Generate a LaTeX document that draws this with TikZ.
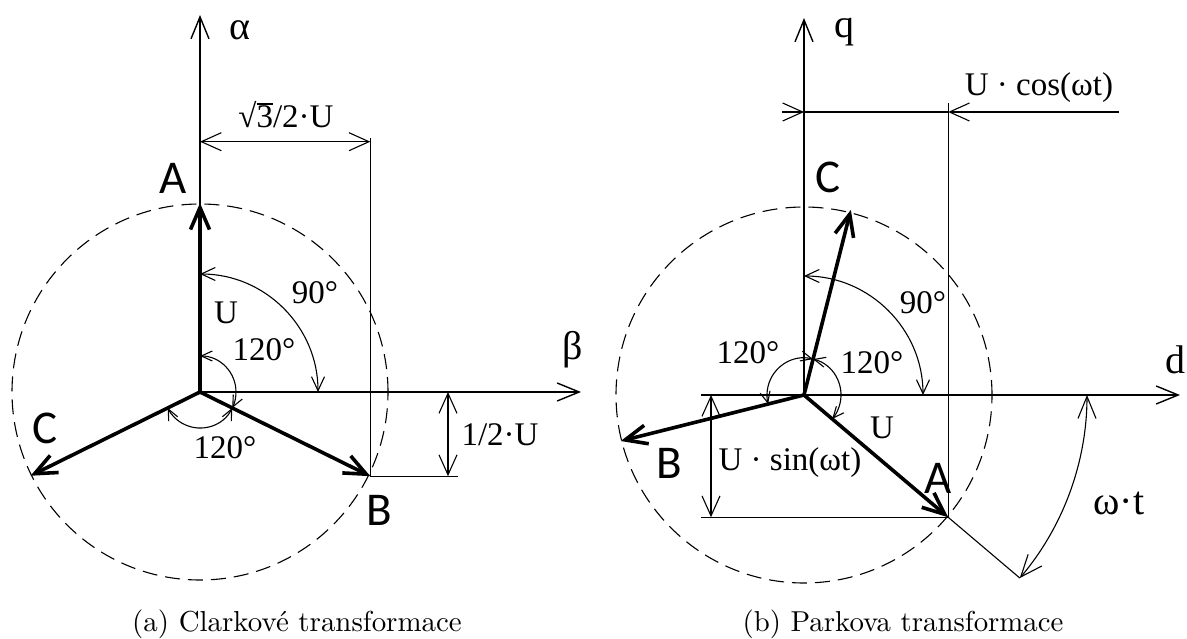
\documentclass[tikz,border=0pt]{standalone}
\usepackage{fontspec}
\usepackage{graphicx}
\usetikzlibrary{arrows.meta,calc}
\newfontfamily\serf{Liberation Serif}
\newfontfamily\sanf{Carlito}
\tikzset{
  axisln/.style={line width=1.4pt,-{Straight Barb[length=22pt,width=18pt]}},
  vecln/.style={line width=3.6pt,-{Straight Barb[length=22pt,width=19pt]}},
  thinln/.style={line width=1.1pt},
  dimarr/.style={line width=1.1pt,{Straight Barb[length=20pt,width=18pt]}-{Straight Barb[length=20pt,width=18pt]}},
  onearr/.style={line width=1.1pt,-{Straight Barb[length=20pt,width=18pt]}},
  angarc/.style={line width=1.1pt,{Straight Barb[length=11pt,width=10pt]}-{Straight Barb[length=11pt,width=10pt]}},
  midarc/.style={line width=1.1pt,{Straight Barb[length=14pt,width=13pt]}-{Straight Barb[length=14pt,width=13pt]}},
  bigarc/.style={line width=1.1pt,{Straight Barb[length=22pt,width=18pt]}-{Straight Barb[length=22pt,width=18pt]}},
  circln/.style={line width=1.1pt,dash pattern=on 15pt off 8pt},
  lab/.style={font=\serf\fontsize{33}{36}\selectfont, inner sep=0pt},
  axlab/.style={font=\serf\fontsize{40}{44}\selectfont, inner sep=0pt},
  vlab/.style={font=\sanf\fontsize{47}{50}\selectfont, inner sep=0pt},
  captxt/.style={inner sep=0pt}
}
\begin{document}
\begin{tikzpicture}[x=1pt,y=1pt]
\useasboundingbox (0,0) rectangle (1187,-639);
% ================= left: Clarke =================
\coordinate (O1) at (200,-392);
\coordinate (al) at (200,-15);
\coordinate (be) at (581,-392);
\coordinate (A1) at ($(O1)+(90:189)$);
\coordinate (B1) at ($(O1)+(-26.3:190)$);
\coordinate (C1) at ($(O1)+(206.3:189)$);
\draw[circln] (O1) circle[radius=188];
\draw[axisln] (O1) -- (al);
\draw[axisln] (O1) -- (be);
% dimension sqrt3/2 U
\coordinate (d1L) at (200,-141.7);
\coordinate (d1R) at (B1 |- d1L);
\path (d1R) ++(0,4) coordinate (e1t);
\draw[thinln] (B1) -- (e1t);
\draw[dimarr] (d1L) -- (d1R);
% dimension 1/2 U
\coordinate (h1t) at (448,-392);
\coordinate (h1b) at (h1t |- B1);
\path (h1b) ++(10,0) coordinate (e2);
\draw[thinln] (B1) -- (e2);
\draw[dimarr] (h1t) -- (h1b);
% angle arcs
\draw[midarc] ($(O1)+(90:118)$) arc[start angle=90,end angle=0,radius=118];
\draw[angarc] ($(O1)+(90:36)$) arc[start angle=90,end angle=-26.3,radius=36];
\draw[angarc] ($(O1)+(-26.3:36)$) arc[start angle=-26.3,end angle=-153.7,radius=36];
% vectors
\draw[vecln] (O1) -- (A1);
\draw[vecln] (O1) -- (B1);
\draw[vecln] (O1) -- (C1);
% labels
\node[axlab] (lal) at (240,-30) {α};
\node[axlab] (lbe) at (573,-350) {β};
\node[vlab] (lA1) at (173,-178) {A};
\node[vlab] (lB1) at (379,-510) {B};
\node[vlab] (lC1) at (45,-428) {C};
\node[lab] (ldim1) at (286,-115) {√\rlap{\rule[0.70em]{0.5em}{0.045em}}3/2·U};
\node[lab] (ldim2) at (500,-435) {1/2·U};
\node[lab] (lU1) at (226,-313) {U};
\node[lab] (l901) at (315,-293) {90°};
\node[lab] (l1201) at (264,-350) {120°};
\node[lab] (l1202) at (225,-448) {120°};
\node[captxt] (capa) at (297,-624) {\scalebox{2.89}{(a) Clarkové transformace}};
% ================= right: Park =================
\coordinate (O2) at (804,-395);
\coordinate (qt) at (804,-18);
\coordinate (dL) at (701,-395);
\coordinate (dt) at (1180,-395);
\coordinate (A2) at ($(O2)+(-40.3:189)$);
\coordinate (B2) at ($(O2)+(194.1:189)$);
\coordinate (C2) at ($(O2)+(75.8:191)$);
\coordinate (W) at ($(O2)+(-40.3:283)$);
\draw[circln] (O2) circle[radius=188];
\draw[axisln] (O2) -- (qt);
\draw[axisln] (dL) -- (dt);
% U cos dimension
\coordinate (cL) at (782,-112);
\coordinate (cq) at (O2 |- cL);
\coordinate (cA) at (A2 |- cL);
\coordinate (cR) at (1119,-112);
\path (cA) ++(0,9) coordinate (e3t);
\draw[thinln] (A2) -- (e3t);
\draw[onearr] (cL) -- (cq);
\draw[thinln] (cq) -- (cA);
\draw[onearr] (cR) -- (cA);
% U sin dimension
\coordinate (s1) at (711,-395);
\coordinate (s2) at (s1 |- A2);
\draw[thinln] (dL |- A2) -- (A2);
\draw[dimarr] (s1) -- (s2);
% omega t
\draw[thinln] (A2) -- (W);
\draw[bigarc] ($(O2)+(0:283)$) arc[start angle=0,end angle=-40.3,radius=283];
% angle arcs
\draw[midarc] ($(O2)+(90:119)$) arc[start angle=90,end angle=0,radius=119];
\draw[angarc] ($(O2)+(75.8:37)$) arc[start angle=75.8,end angle=194.1,radius=37];
\draw[angarc] ($(O2)+(75.8:37)$) arc[start angle=75.8,end angle=-40.3,radius=37];
% vectors
\draw[vecln] (O2) -- (A2);
\draw[vecln] (O2) -- (B2);
\draw[vecln] (O2) -- (C2);
% labels
\node[axlab] (lq) at (844,-32) {q};
\node[axlab] (ld) at (1175,-360) {d};
\node[vlab] (lA2) at (938,-478) {A};
\node[vlab] (lB2) at (669,-463) {B};
\node[vlab] (lC2) at (828,-177) {C};
\node[lab] (lcos) at (1039,-88) {U · cos(ωt)};
\node[lab] (lsin) at (790,-463) {U · sin(ωt)};
\node[lab] (lU2) at (882,-428) {U};
\node[lab] (l902) at (923,-303) {90°};
\node[lab] (l1203) at (748,-353) {120°};
\node[lab] (l1204) at (872,-363) {120°};
\node[axlab] (lwt) at (1119,-503) {ω·t};
\node[captxt] (capb) at (903,-624) {\scalebox{2.88}{(b) Parkova transformace}};
\end{tikzpicture}
\end{document}
